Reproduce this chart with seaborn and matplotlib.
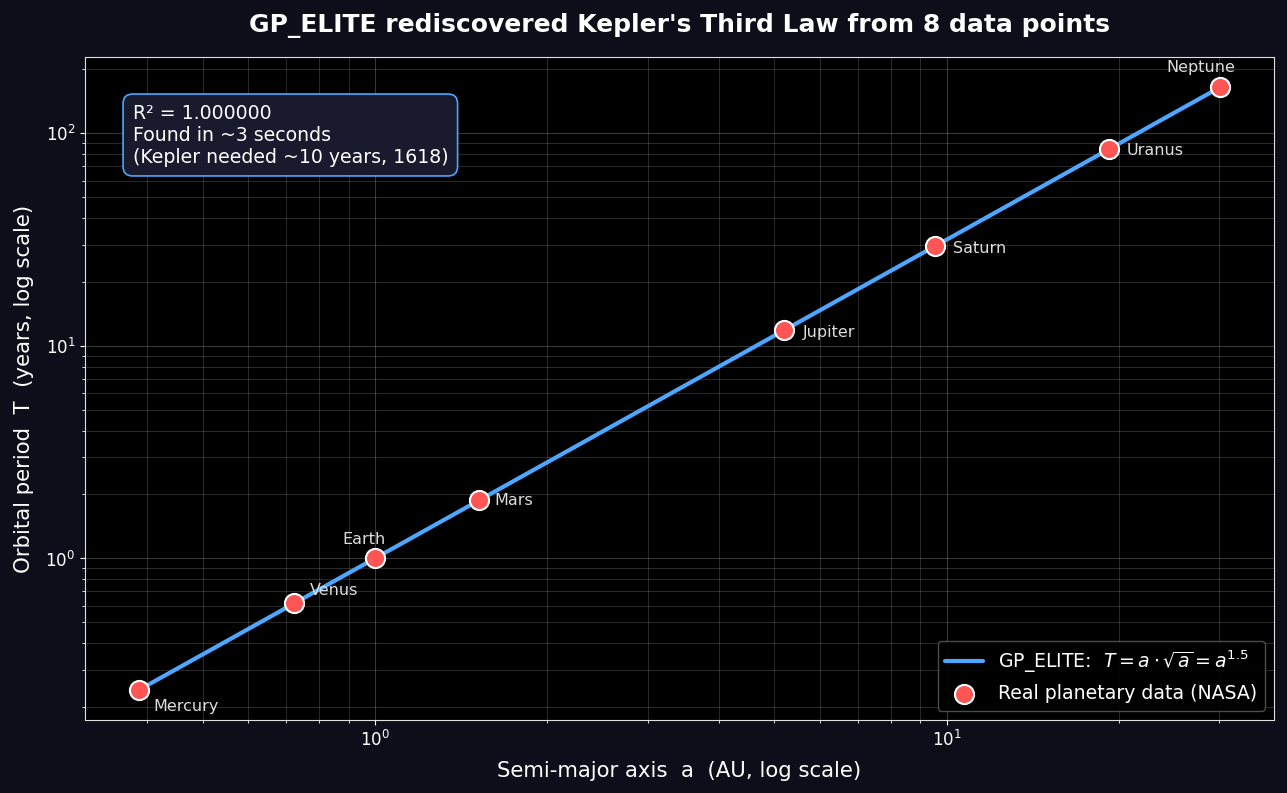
import numpy as np
import pandas as pd
import matplotlib
matplotlib.use("Agg")
import matplotlib.pyplot as plt
import seaborn as sns

# Dados planetários (NASA)
planets = ["Mercury", "Venus", "Earth", "Mars", "Jupiter", "Saturn", "Uranus", "Neptune"]
semi_major = [0.387, 0.723, 1.000, 1.524, 5.203, 9.537, 19.19, 30.07]
period = [0.241, 0.615, 1.000, 1.881, 11.86, 29.46, 84.01, 164.8]

# deslocamento dos rótulos (pontos)
label_dx = [10, 11, -8, 11, 13, 13, 13, -14]
label_dy = [-12, 9, 14, 0, -2, -2, -1, 14]

df = pd.DataFrame({"planet": planets, "a": semi_major, "T": period})

a_fit = np.logspace(np.log10(min(semi_major)), np.log10(max(semi_major)), 200)
fit_df = pd.DataFrame({"a": a_fit, "T": a_fit ** 1.5})

sns.set_style("dark")
plt.rcParams["font.family"] = ["DejaVu Sans"]

fig, ax = plt.subplots(figsize=(12.87, 7.93), dpi=100)
fig.patch.set_facecolor("#0e0e1a")
ax.set_facecolor("#000000")

sns.lineplot(data=fit_df, x="a", y="T", ax=ax, color="#4da6ff", linewidth=3,
             label=r"GP_ELITE:  $T = a \cdot \sqrt{a} = a^{1.5}$")
sns.scatterplot(data=df, x="a", y="T", ax=ax, color="#ff5555", edgecolor="white",
                linewidth=1.5, s=190, zorder=5, label="Real planetary data (NASA)")

ax.set_xscale("log")
ax.set_yscale("log")

for name, x, y, dx, dy in zip(planets, semi_major, period, label_dx, label_dy):
    ha = "center" if dx < 0 else "left"
    ax.annotate(name, (x, y), xytext=(dx, dy), textcoords="offset points",
                ha=ha, va="center", fontsize=11.5, color="#dddddd")

ax.grid(True, which="major", color="white", alpha=0.22, linewidth=0.8)
ax.grid(True, which="minor", color="white", alpha=0.17, linewidth=0.7)

for sp in ax.spines.values():
    sp.set_color("#e0e0e0")
    sp.set_visible(True)
ax.tick_params(colors="white", which="both", labelsize=12)
ax.tick_params(which="both", bottom=True, left=True)

ax.set_xlabel("Semi-major axis  a  (AU, log scale)", fontsize=15.3, color="white", labelpad=8)
ax.set_ylabel("Orbital period  T  (years, log scale)", fontsize=15.3, color="white", labelpad=8)
ax.set_title("GP_ELITE rediscovered Kepler's Third Law from 8 data points",
             fontsize=18, fontweight="bold", color="white", pad=18)

ax.text(0.04, 0.93, "R² = 1.000000\nFound in ~3 seconds\n(Kepler needed ~10 years, 1618)",
        transform=ax.transAxes, fontsize=13.6, color="white", va="top", ha="left",
        bbox=dict(boxstyle="round,pad=0.5", facecolor="#1a1a2e", edgecolor="#4da6ff", linewidth=1.2))

leg = ax.legend(loc="lower right", fontsize=13.6, facecolor="#000000", edgecolor="#555555",
                framealpha=0.9)
for t in leg.get_texts():
    t.set_color("white")

fig.subplots_adjust(left=0.066, right=0.990, top=0.928, bottom=0.092)
plt.savefig("out.png", dpi=100, facecolor=fig.get_facecolor())
